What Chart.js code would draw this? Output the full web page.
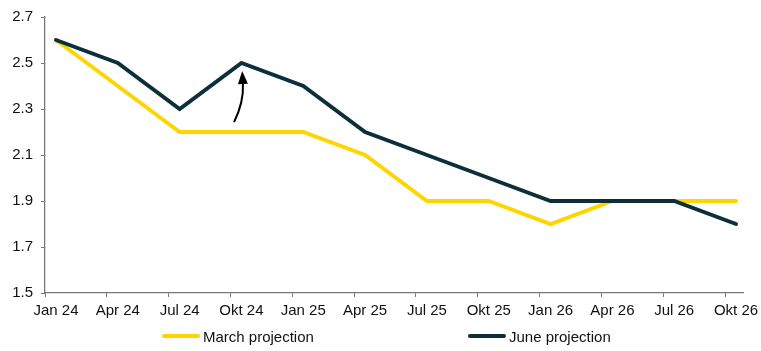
<!DOCTYPE html>
<html>
<head>
<meta charset="utf-8">
<script src="https://cdn.jsdelivr.net/npm/chart.js@4.4.1/dist/chart.umd.min.js"></script>
<style>
  html, body { margin: 0; padding: 0; background: #fff; }
  #wrap { position: relative; width: 761px; height: 351px; }
  .leg { position: absolute; top: 327px; font: 15px "Liberation Sans", Arial, sans-serif; color: #111; display: flex; align-items: center; height: 18px; }
  .leg i { display: inline-block; width: 38px; height: 4px; border-radius: 2px; margin-right: 3px; }
</style>
</head>
<body>
<div id="wrap">
  <canvas id="chart_projection" width="761" height="351"></canvas>
  <div class="leg" id="leg0" style="left:162px"></div>
  <div class="leg" id="leg1" style="left:468px"></div>
</div>
<script>
var quarters = ['Jan 24', 'Apr 24', 'Jul 24', 'Okt 24', 'Jan 25', 'Apr 25', 'Jul 25', 'Okt 25', 'Jan 26', 'Apr 26', 'Jul 26', 'Okt 26'];
var marchProjection = [2.6, 2.4, 2.2, 2.2, 2.2, 2.1, 1.9, 1.9, 1.8, 1.9, 1.9, 1.9];
var juneProjection = [2.6, 2.5, 2.3, 2.5, 2.4, 2.2, 2.1, 2.0, 1.9, 1.9, 1.9, 1.8];
var yTicks = [1.5, 1.7, 1.9, 2.1, 2.3, 2.5, 2.7];
// arrow: tail, control, tip (x = quarter index, y = value)
var arrowPath = [[2.88, 2.243], [3.04, 2.33], [3.012, 2.465]];

var series = [
  { label: 'March projection', color: '#ffd500', values: marchProjection, order: 2 },
  { label: 'June projection', color: '#0c2f3a', values: juneProjection, order: 1 }
];

var xMin = -0.178, xMax = 11.113;
var tickFont = { family: 'Liberation Sans', size: 15 };

var chart_projection = new Chart(document.getElementById('chart_projection'), {
  type: 'line',
  data: {
    datasets: series.map(function (s) {
      return {
        label: s.label,
        order: s.order,
        data: s.values.map(function (v, i) { return { x: i, y: v }; }),
        borderColor: s.color,
        backgroundColor: s.color,
        borderWidth: 4,
        pointRadius: 0,
        tension: 0,
        borderCapStyle: 'round',
        borderJoinStyle: 'miter'
      };
    })
  },
  options: {
    animation: false,
    responsive: false,
    layout: { padding: { left: 12, right: 18, top: 16, bottom: 30 } },
    plugins: {
      legend: { display: false },
      tooltip: { enabled: false }
    },
    scales: {
      x: {
        type: 'linear',
        min: xMin,
        max: xMax,
        afterBuildTicks: function (scale) {
          scale.ticks = quarters.map(function (q, i) { return { value: xMin + i }; });
        },
        afterFit: function (scale) { scale.height = 28; },
        ticks: {
          autoSkip: false,
          maxRotation: 0,
          padding: 5,
          labelOffset: -xMin * 61.82,
          color: '#111',
          font: tickFont,
          callback: function (v, i) { return quarters[i]; }
        },
        grid: { drawOnChartArea: false, tickLength: 4, color: '#777' },
        border: { color: '#777', width: 1.3 }
      },
      y: {
        min: 1.5,
        max: 2.7,
        afterBuildTicks: function (scale) {
          scale.ticks = yTicks.map(function (v) { return { value: v }; });
        },
        afterFit: function (scale) { scale.width = 33; },
        ticks: {
          padding: 8,
          color: '#111',
          font: tickFont,
          callback: function (v) { return Number(v).toFixed(1); }
        },
        grid: { drawOnChartArea: false, tickLength: 4, color: '#777' },
        border: { color: '#777', width: 1.3 }
      }
    }
  },
  plugins: [{
    id: 'arrowNote',
    afterDatasetsDraw: function (chart) {
      var ctx = chart.ctx, xs = chart.scales.x, ys = chart.scales.y;
      var p = arrowPath.map(function (a) { return [xs.getPixelForValue(a[0]), ys.getPixelForValue(a[1])]; });
      var ang = Math.atan2(p[2][1] - p[1][1], p[2][0] - p[1][0]);
      var len = 13, half = 5;
      var bx = p[2][0] - len * Math.cos(ang), by = p[2][1] - len * Math.sin(ang);
      ctx.save();
      ctx.strokeStyle = '#000';
      ctx.fillStyle = '#000';
      ctx.lineWidth = 2;
      ctx.beginPath();
      ctx.moveTo(p[0][0], p[0][1]);
      ctx.quadraticCurveTo(p[1][0], p[1][1], bx, by);
      ctx.stroke();
      ctx.beginPath();
      ctx.moveTo(p[2][0], p[2][1]);
      ctx.lineTo(bx + half * Math.sin(ang), by - half * Math.cos(ang));
      ctx.lineTo(bx - half * Math.sin(ang), by + half * Math.cos(ang));
      ctx.closePath();
      ctx.fill();
      ctx.restore();
    }
  }, {
    id: 'whiteBg',
    beforeDraw: function (chart) {
      var ctx = chart.ctx;
      ctx.save();
      ctx.globalCompositeOperation = 'destination-over';
      ctx.fillStyle = 'white';
      ctx.fillRect(0, 0, chart.width, chart.height);
      ctx.restore();
    }
  }]
});

series.forEach(function (s, i) {
  var el = document.getElementById('leg' + i);
  el.innerHTML = '<i style="background:' + s.color + '"></i>' + s.label;
});
</script>
</body>
</html>
